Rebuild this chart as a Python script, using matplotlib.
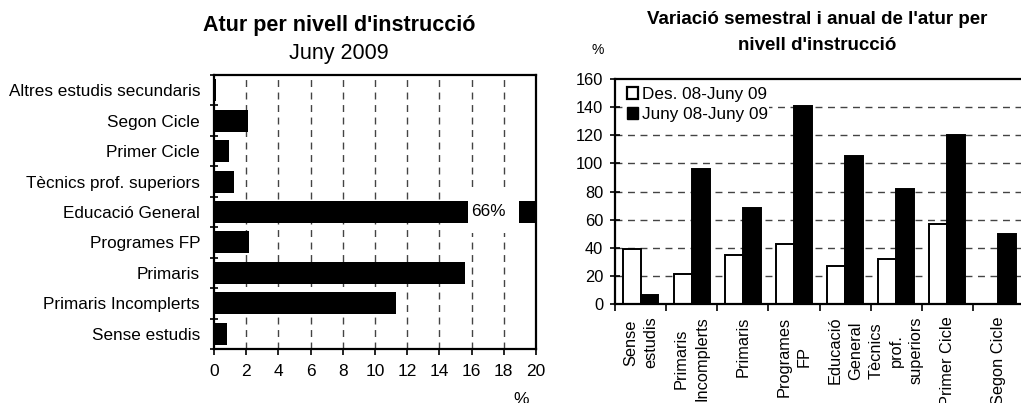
import numpy as np
import matplotlib
matplotlib.use("Agg")
import matplotlib.pyplot as plt
from matplotlib.patches import Patch, Rectangle

plt.rcParams['font.family'] = ['Liberation Sans', 'DejaVu Sans']

# --- left chart: share of unemployment by education level, June 2009 (%)
cats_left = ['Sense estudis', 'Primaris Incomplerts', 'Primaris', 'Programes FP',
             'Educació General', 'Tècnics prof. superiors', 'Primer Cicle',
             'Segon Cicle', 'Altres estudis secundaris']
share = [0.8, 11.3, 15.6, 2.2, 66, 1.25, 0.95, 2.1, 0.15]
xticks_left = [0, 2, 4, 6, 8, 10, 12, 14, 16, 18, 20]

# --- right chart: semestral and annual variation (%)
cats_right = ['Sense\nestudis', 'Primaris\nIncomplerts', 'Primaris', 'Programes\nFP',
              'Educació\nGeneral', 'Tècnics\nprof.\nsuperiors', 'Primer Cicle', 'Segon Cicle']
semestral = [39, 21, 35, 43, 27, 32, 57, 0]
anual = [6.5, 96, 68, 141, 105.5, 81.5, 120.5, 50]
yticks_right = [0, 20, 40, 60, 80, 100, 120, 140, 160]

W, H = 1021, 403
fig = plt.figure(figsize=(W / 100, H / 100), dpi=100)


def px(x0, y0, x1, y1):
    return [x0 / W, 1 - y1 / H, (x1 - x0) / W, (y1 - y0) / H]


grid_kw = dict(color='#444444', lw=1.0, dashes=(5, 4))

# ---------------- left
ax1 = fig.add_axes(px(214, 75, 536, 349))
yl = np.arange(len(cats_left))
ax1.barh(yl, share, height=0.72, color='black', zorder=2)
ax1.set_xlim(0, 20)
ax1.set_ylim(-0.5, len(cats_left) - 0.5)
ax1.set_xticks(xticks_left)
ax1.set_yticks(yl, cats_left)
ax1.set_yticks(np.arange(-0.5, len(cats_left)), minor=True)
ax1.tick_params(axis='y', which='major', length=0, pad=10, labelsize=12.3)
ax1.tick_params(axis='y', which='minor', direction='inout', length=6, width=1.2)
ax1.tick_params(axis='x', direction='out', length=4, width=1.2, pad=7, labelsize=12.5)
for x in xticks_left[1:-1]:
    ax1.axvline(x, zorder=1, **grid_kw)
for s in ax1.spines.values():
    s.set_linewidth(1.6)

# broken bar for Educació General
i_eg = cats_left.index('Educació General')
ax1.add_patch(Rectangle((15.8, i_eg - 0.7), 3.15, 1.4, facecolor='white',
                        edgecolor='none', zorder=3, clip_on=False))
ax1.text(15.95, i_eg, f"{share[i_eg]:.0f}%", va='center', ha='left', fontsize=12.3, zorder=4)

fig.text(339 / W, 1 - 26 / H, "Atur per nivell d'instrucció", ha='center', va='center',
         fontsize=15.5, fontweight='bold')
fig.text(339 / W, 1 - 54 / H, "Juny 2009", ha='center', va='center', fontsize=15.5)
fig.text(521 / W, 1 - 400 / H, "%", ha='center', va='center', fontsize=12.5)

# ---------------- right
ax2 = fig.add_axes(px(615, 79, 1024, 304))
xr = np.arange(len(cats_right)) + 0.5
ax2.bar(xr - 0.175, semestral, width=0.35, color='white', edgecolor='black',
        linewidth=1.4, zorder=2)
ax2.bar(xr + 0.175, anual, width=0.35, color='black', edgecolor='black',
        linewidth=1.4, zorder=2)
ax2.set_xlim(0, len(cats_right))
ax2.set_ylim(0, 160)
ax2.set_yticks(yticks_right)
ax2.set_xticks(xr, cats_right, rotation=90, ha='center', va='top',
               multialignment='center', linespacing=1.45)
ax2.set_xticks(np.arange(len(cats_right) + 1), minor=True)
ax2.tick_params(axis='x', which='major', length=0, pad=9, labelsize=11.8)
ax2.tick_params(axis='x', which='minor', direction='out', length=5, width=1.2)
ax2.tick_params(axis='y', direction='inout', length=7, width=1.2, pad=5, labelsize=11.8)
for y in yticks_right[1:-1]:
    ax2.axhline(y, zorder=1, **grid_kw)
for s in ax2.spines.values():
    s.set_linewidth(1.6)
ax2.spines['right'].set_visible(False)

handles = [Patch(facecolor='white', edgecolor='black', linewidth=1.6),
           Patch(facecolor='black', edgecolor='black')]
leg = ax2.legend(handles, ['Des. 08-Juny 09', 'Juny 08-Juny 09'], loc='upper left',
                 bbox_to_anchor=(626 / W, 1 - 86 / H), bbox_transform=fig.transFigure,
                 frameon=True, fancybox=False, fontsize=12.3,
                 handlelength=0.68, handleheight=0.68, handletextpad=0.2,
                 labelspacing=0.28, borderpad=0.05, borderaxespad=0)
leg.get_frame().set_facecolor('white')
leg.get_frame().set_edgecolor('none')
leg.get_frame().set_alpha(1)
leg.set_zorder(5)

fig.text(817 / W, 1 - 20 / H, "Variació semestral i anual de l'atur per",
         ha='center', va='center', fontsize=13.5, fontweight='bold')
fig.text(817 / W, 1 - 45 / H, "nivell d'instrucció",
         ha='center', va='center', fontsize=13.5, fontweight='bold')
fig.text(598 / W, 1 - 50 / H, "%", ha='center', va='center', fontsize=10)

fig.savefig('out.png', dpi=100)
